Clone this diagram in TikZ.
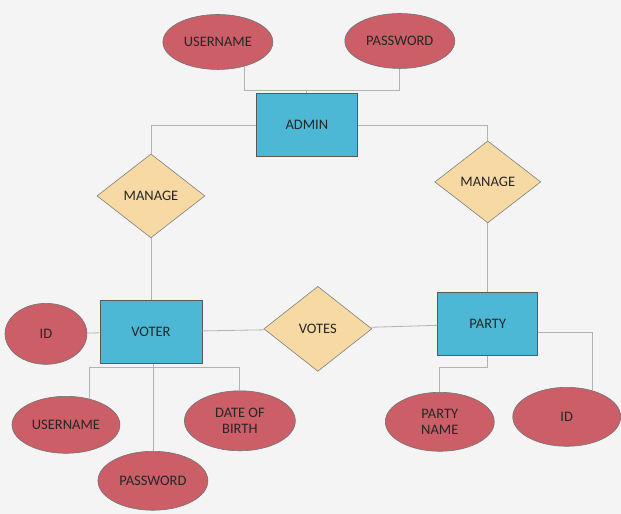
\documentclass[tikz,border=0pt]{standalone}
\usepackage{fontspec}
\setmainfont{Carlito}
\usepackage{xcolor}
\usetikzlibrary{shapes.geometric}

\definecolor{attrred}{RGB}{204,94,104}
\definecolor{entblue}{RGB}{76,184,214}
\definecolor{relsand}{RGB}{247,217,164}
\definecolor{paper}{RGB}{243,244,243}

\begin{document}
\begin{tikzpicture}[x=1pt,y=-1pt]
        \tikzstyle{every node}=[font=\fontsize{14.5}{16}\selectfont, text=black!85, inner sep=0pt, align=center]
        \tikzstyle{attr}=[draw=black!55, line width=0.6pt, fill=attrred, ellipse, minimum width=108pt, minimum height=57pt]
        \tikzstyle{ent}=[draw=black!65, line width=0.7pt, fill=entblue, minimum width=102pt, minimum height=63pt]
        \tikzstyle{rel}=[draw=black!50, line width=0.6pt, fill=relsand, diamond, minimum width=108pt, minimum height=84pt]
        \tikzstyle{link}=[draw=black!30, line width=0.8pt]
        \fill[paper] (0,0) rectangle (621,514);
        \node[attr, minimum width=110pt, minimum height=55pt] (au) at (218,42) {USERNAME};
        \node[attr, minimum width=110pt, minimum height=55pt] (ap) at (400,41) {PASSWORD};
        \node[ent] (admin) at (307,125) {ADMIN};
        \node[rel] (ml) at (151,196) {MANAGE};
        \node[rel, minimum width=106pt, minimum height=82pt] (mr) at (488,182) {MANAGE};
        \node[ent] (voter) at (151,332) {VOTER};
        \node[rel, minimum height=85pt] (votes) at (318,329) {VOTES};
        \node[ent, minimum width=100pt, minimum height=64pt] (party) at (488,324) {PARTY};
        % Attributes
        \node[attr, minimum width=82pt, minimum height=61pt] (vid) at (46,334) {ID};
        \node[attr] (vu) at (66,425) {USERNAME};
        \node[attr, minimum width=110pt, minimum height=59pt] (vp) at (153,481) {PASSWORD};
        \node[attr, minimum width=111pt, minimum height=60pt] (vd) at (240,421) {DATE OF\\BIRTH};
        \node[attr, minimum width=109pt, minimum height=59pt] (pn) at (440,422) {PARTY\\NAME};
        \node[attr, minimum width=108pt, minimum height=59pt] (pid) at (567,417) {ID};
        \coordinate (ja) at (307,90);
        \coordinate (jv) at (153,368);
        \coordinate (jp) at (488,368);
        \draw[link] (au.-42) |- (ja) -| (ap);
        \draw[link] (admin) -- (ja);
        \draw[link] (admin.west) -| (ml);
        \draw[link] (admin.east) -| (mr);
        \draw[link] (ml) -- (voter);
        \draw[link] (mr) -- (party);
        \draw[link] (vid) -- (voter);
        \draw[link] (voter) -- (votes);
        \draw[link] (votes) -- (party);
        \draw[link] (voter.south -| vp) -- (vp);
        \draw[link] (vu.48) |- (jv) -| (vd);
        \draw[link] (party) -- (jp) -| (pn);
        \draw[link] (party.-10) -| (pid.46);
\end{tikzpicture}
\end{document}
